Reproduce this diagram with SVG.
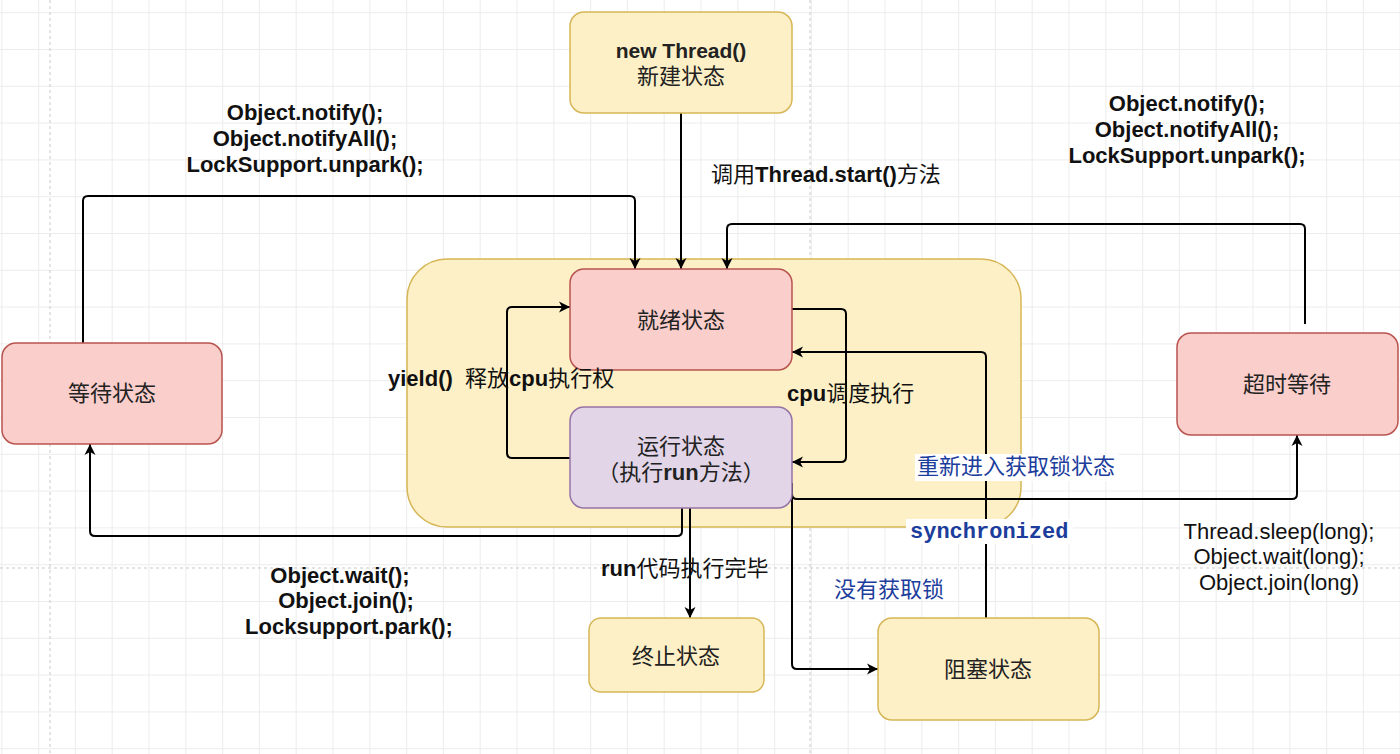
<svg xmlns="http://www.w3.org/2000/svg" width="1400" height="754" viewBox="0 0 1400 754">
<style>
text{font-family:"Liberation Sans","Noto Sans CJK SC",sans-serif;font-size:22px;fill:#111}
.b{font-weight:bold}
.n{font-size:22px;text-anchor:middle;fill:#222}
.blue{fill:#1c3d9c}
.mono{font-family:"Liberation Mono","Noto Sans CJK SC",monospace;font-weight:bold}
.yel{fill:#fdf0c6;stroke:#d6b656;stroke-width:1.5}
.red{fill:#f9cecb;stroke:#b85450;stroke-width:1.5}
.pur{fill:#e1d5e7;stroke:#9673a6;stroke-width:1.5}
.c{fill:none;stroke:#000;stroke-width:2;marker-end:url(#ah)}
.dash{stroke:#c9c9c9;stroke-width:1;stroke-dasharray:3 3}
</style>
<defs>
<pattern id="grid" patternUnits="userSpaceOnUse" x="1.3" y="12.2" width="36.8" height="36.8">
<rect x="0" y="0" width="36.8" height="1" fill="#ececec"/>
<rect x="0" y="0" width="1" height="36.8" fill="#ececec"/>
</pattern>
<marker id="ah" markerUnits="userSpaceOnUse" markerWidth="14" markerHeight="14" viewBox="0 0 14 14" refX="12" refY="7" orient="auto">
<path d="M1,1.5 L12,7 L1,12.5 L4,7 Z" fill="#000"/>
</marker>
</defs>
<rect width="1400" height="754" fill="#fff"/>
<rect width="1400" height="754" fill="url(#grid)"/>
<line class="dash" x1="50" y1="0" x2="50" y2="754"/>
<line class="dash" x1="810" y1="0" x2="810" y2="754"/>
<line class="dash" x1="0" y1="568" x2="1400" y2="568"/>

<g id="container"><rect class="yel" x="407" y="259" width="614" height="268" rx="40"/></g>

<g id="connectors">
<path class="c" d="M681,113 V269"/>
<path class="c" d="M83,343 V201 Q83,196 88,196 H630 Q635,196 635,201 V269"/>
<path class="c" d="M1305,324 V229 Q1305,224 1300,224 H732 Q727,224 727,229 V269"/>
<path class="c" d="M570,458 H512 Q507,458 507,453 V312 Q507,307 512,307 H570"/>
<path class="c" d="M792,309 H841 Q846,309 846,314 V457 Q846,462 841,462 H792"/>
<path class="c" d="M986,618 V357 Q986,352 981,352 H792"/>
<path class="c" d="M792,483 V494 Q792,499 797,499 H1292 Q1297,499 1297,494 V435"/>
<path class="c" d="M792,483 V664 Q792,669 797,669 H878"/>
<path class="c" d="M682,508 V531 Q682,536 677,536 H95 Q90,536 90,531 V444"/>
<path class="c" d="M690,508 V618"/>
</g>

<g id="new-thread">
<rect class="yel" x="570" y="12" width="222" height="101" rx="14"/>
<text class="n b" x="681" y="58" style="font-size:21px">new Thread()</text>
<text class="n" x="681" y="84">新建状态</text>
</g>
<g id="ready">
<rect class="red" x="570" y="269" width="222" height="101" rx="14"/>
<text class="n" x="681" y="328">就绪状态</text>
</g>
<g id="running">
<rect class="pur" x="570" y="407" width="222" height="101" rx="14"/>
<text class="n" x="681" y="454">运行状态</text>
<text class="n" x="681" y="480">（执行<tspan class="b">run</tspan>方法）</text>
</g>
<g id="waiting">
<rect class="red" x="2" y="343" width="220" height="101" rx="14"/>
<text class="n" x="112" y="401">等待状态</text>
</g>
<g id="timed-waiting">
<rect class="red" x="1177" y="333" width="221" height="102" rx="14"/>
<text class="n" x="1287" y="392">超时等待</text>
</g>
<g id="terminated">
<rect class="yel" x="589" y="618" width="175" height="74" rx="12"/>
<text class="n" x="676" y="664">终止状态</text>
</g>
<g id="blocked">
<rect class="yel" x="878" y="618" width="221" height="102" rx="14"/>
<text class="n" x="988" y="677">阻塞状态</text>
</g>

<g id="labels">
<text x="711" y="182">调用<tspan class="b">Thread.start()</tspan>方法</text>
<g class="b" text-anchor="middle">
<text x="305" y="120">Object.notify();</text>
<text x="305" y="146">Object.notifyAll();</text>
<text x="305" y="172">LockSupport.unpark();</text>
<text x="1187" y="111">Object.notify();</text>
<text x="1187" y="137">Object.notifyAll();</text>
<text x="1187" y="163">LockSupport.unpark();</text>
<text x="340" y="583">Object.wait();</text>
<text x="346" y="608">Object.join();</text>
<text x="349" y="634">Locksupport.park();</text>
</g>
<text x="388" y="386" xml:space="preserve"><tspan class="b">yield()</tspan>  释放<tspan class="b">cpu</tspan>执行权</text>
<text x="787" y="401"><tspan class="b">cpu</tspan>调度执行</text>
<text x="601" y="576"><tspan class="b">run</tspan>代码执行完毕</text>
<g text-anchor="middle">
<text x="1279" y="539">Thread.sleep(long);</text>
<text x="1279" y="564">Object.wait(long);</text>
<text x="1279" y="590">Object.join(long)</text>
</g>
<rect x="915" y="454" width="204" height="27" fill="#fff"/>
<text class="blue" x="917" y="474">重新进入获取锁状态</text>
<rect x="906" y="519" width="167" height="25" fill="#fff"/>
<text class="blue mono" x="910" y="538">synchronized</text>
<text class="blue" x="834" y="597">没有获取锁</text>
</g>
</svg>
